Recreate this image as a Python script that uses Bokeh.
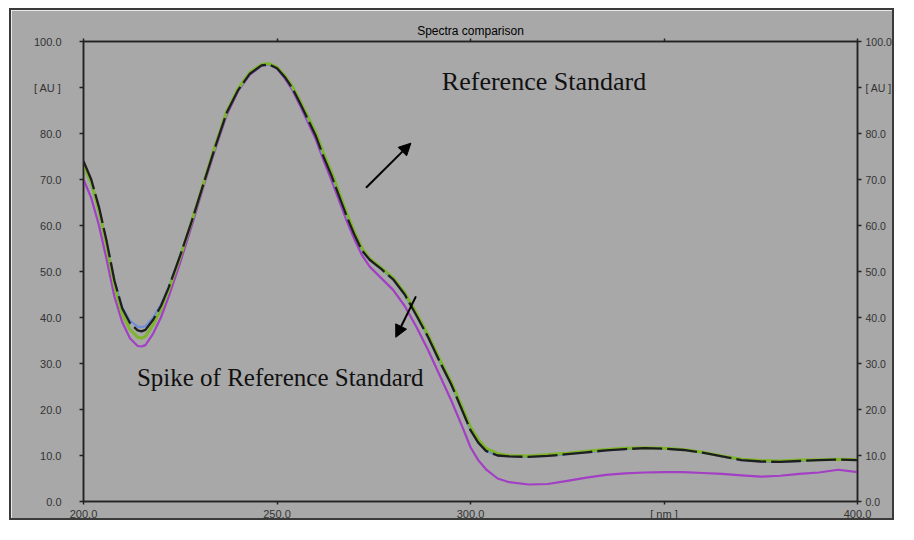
from bokeh.plotting import figure
from bokeh.models import Range1d, LinearAxis, FixedTicker, Label, Arrow, NormalHead
from bokeh.embed import file_html
from bokeh.resources import INLINE

# ---------------- data ----------------
wavelength = [200, 202, 204, 206, 208, 210, 212, 214, 215, 216, 218, 220, 222, 225, 228,
              231, 234, 237, 240, 243, 246, 248, 250, 252, 254, 256, 258, 260, 262, 264,
              266, 268, 270, 272, 274, 277, 280, 283, 286, 289, 292, 295, 298, 300, 302,
              304, 307, 310, 315, 320, 325, 330, 335, 340, 345, 350, 355, 360, 365, 370,
              375, 380, 385, 390, 395, 400]

reference_black = [74.0, 70.0, 64.0, 56.5, 48.0, 42.0, 38.8, 37.2, 37.0, 37.3, 39.5, 42.5, 46.5, 53.5, 61.0,
                   69.0, 77.0, 84.5, 89.5, 93.0, 94.8, 95.0, 94.2, 92.3, 89.8, 86.5, 83.0, 79.5, 75.0, 71.0,
                   66.5, 62.0, 58.0, 54.5, 52.5, 50.5, 48.3, 45.0, 40.5, 35.8, 30.5, 25.5, 19.5, 15.5, 12.8,
                   11.0, 10.0, 9.8, 9.7, 9.9, 10.3, 10.7, 11.1, 11.4, 11.6, 11.5, 11.2, 10.6, 9.8, 9.0,
                   8.7, 8.6, 8.8, 9.0, 9.1, 9.0]

reference_green = [73.2, 69.3, 63.2, 55.6, 47.0, 40.8, 37.4, 35.7, 35.5, 35.9, 38.4, 41.8, 46.0, 53.2, 61.0,
                   69.2, 77.3, 84.8, 89.8, 93.3, 95.0, 95.2, 94.4, 92.6, 90.2, 87.0, 83.6, 80.2, 75.8, 71.8,
                   67.3, 62.7, 58.6, 55.0, 52.8, 50.8, 48.6, 45.4, 41.0, 36.3, 31.0, 26.0, 20.2, 16.2, 13.5,
                   11.6, 10.4, 10.0, 9.9, 10.2, 10.5, 10.9, 11.3, 11.6, 11.7, 11.6, 11.3, 10.7, 9.9, 9.2,
                   8.9, 8.8, 9.0, 9.1, 9.2, 9.1]

reference_blue = [73.6, 69.6, 63.6, 56.2, 48.0, 42.3, 39.3, 38.0, 37.9, 38.1, 40.0, 42.8, 46.6, 53.5, 61.0,
                  69.0, 77.0, 84.5, 89.5, 93.0, 94.8, 95.0, 94.2, 92.3, 89.8, 86.5, 83.0, 79.5, 75.0, 71.0,
                  66.5, 62.0, 58.0, 54.5, 52.5, 50.5, 48.3, 45.0, 40.5, 35.8, 30.5, 25.5, 19.5, 15.5, 12.8,
                  11.0, 10.0, 9.8, 9.7, 9.9, 10.3, 10.7, 11.1, 11.4, 11.6, 11.5, 11.2, 10.6, 9.8, 9.0,
                  8.7, 8.6, 8.8, 9.0, 9.1, 9.0]

spike_purple = [70.0, 66.0, 60.0, 52.5, 44.5, 39.0, 35.5, 33.8, 33.7, 34.0, 36.5, 40.0, 44.5, 52.0, 60.0,
                68.5, 76.5, 84.0, 89.3, 92.8, 94.7, 95.0, 94.1, 92.0, 89.4, 86.0, 82.4, 78.8, 74.2, 70.0,
                65.5, 61.0, 57.0, 53.5, 51.0, 48.5, 46.0, 42.5, 38.0, 33.0, 27.5, 22.0, 16.0, 11.8, 9.0,
                7.0, 5.0, 4.2, 3.7, 3.8, 4.5, 5.2, 5.8, 6.1, 6.3, 6.4, 6.4, 6.2, 6.0, 5.7,
                5.4, 5.6, 6.0, 6.3, 6.9, 6.4]

x_ticks = [200, 250, 300, 350, 400]
x_tick_labels = {200: "200.0", 250: "250.0", 300: "300.0", 350: "[ nm ]", 400: "400.0"}
y_ticks = [0, 10, 20, 30, 40, 50, 60, 70, 80, 90, 100]
y_tick_labels = {0: "0.0", 10: "10.0", 20: "20.0", 30: "30.0", 40: "40.0", 50: "50.0",
                 60: "60.0", 70: "70.0", 80: "80.0", 90: "[ AU ]", 100: "100.0"}

# ---------------- figure ----------------
BG = "#a8a8a8"
p = figure(width=885, height=512, output_backend="svg", toolbar_location=None,
           x_range=Range1d(200, 400), y_range=Range1d(0, 100),
           min_border_left=72, min_border_right=39, min_border_top=31, min_border_bottom=20,
           background_fill_color=BG, border_fill_color=BG)
p.margin = (8, 0, 0, 9)
p.styles = {"border": "2px solid #3a3a3a"}

p.title.text = "Spectra comparison"
p.title.align = "center"
p.title.text_font = "Liberation Sans"
p.title.text_font_size = "12px"
p.title.text_font_style = "normal"
p.title.text_color = "#000000"
p.title.standoff = 1

p.grid.visible = False
p.outline_line_color = "#222222"
p.outline_line_width = 1.5

def style_axis(ax, labels, ticks, standoff, tick_out):
    ax.ticker = FixedTicker(ticks=ticks)
    ax.major_label_overrides = labels
    ax.axis_line_color = "#222222"
    ax.axis_line_width = 1.5
    ax.major_tick_line_color = "#222222"
    ax.major_tick_line_width = 1.5
    ax.major_tick_out = tick_out
    ax.major_tick_in = 0
    ax.minor_tick_line_color = None
    ax.major_label_standoff = standoff
    ax.major_label_text_font = "Liberation Sans"
    ax.major_label_text_font_size = "11px"
    ax.major_label_text_color = "#333333"

style_axis(p.xaxis[0], x_tick_labels, x_ticks, 3, 3)
style_axis(p.yaxis[0], y_tick_labels, y_ticks, 18, 4)

right_axis = LinearAxis()
style_axis(right_axis, y_tick_labels, y_ticks, 4, 4)
right_axis.major_label_text_font_size = "10.5px"
p.add_layout(right_axis, "right")

top_axis = LinearAxis()
style_axis(top_axis, {t: "" for t in x_ticks}, x_ticks, 0, 3)
top_axis.major_label_text_font_size = "0px"
p.add_layout(top_axis, "above")

# ---------------- spectra ----------------
p.line(wavelength, spike_purple, line_color="#a23fc4", line_width=2.2)
p.line(wavelength, reference_blue, line_color="#6f8fd8", line_width=2.2)
p.line(wavelength, reference_green, line_color="#7fb52a", line_width=3)
p.line(wavelength, reference_black, line_color="#1e1e1e", line_width=2.3, line_dash="30 5")

# ---------------- annotations ----------------
p.add_layout(Label(x=292.6, y=91.3, text="Reference Standard", text_font="Liberation Serif",
                   text_font_size="26px", text_color="#111111", text_align="left",
                   text_baseline="middle"))
p.add_layout(Label(x=213.8, y=27.0, text="Spike of Reference Standard", text_font="Liberation Serif",
                   text_font_size="25px", text_color="#111111", text_align="left",
                   text_baseline="middle"))
p.add_layout(Arrow(x_start=273.0, y_start=68.2, x_end=284.6, y_end=77.9, line_color="black", line_width=2,
                   end=NormalHead(size=12, fill_color="black", line_color="black")))
p.add_layout(Arrow(x_start=285.9, y_start=44.6, x_end=280.7, y_end=35.7, line_color="black", line_width=2,
                   end=NormalHead(size=12, fill_color="black", line_color="black")))

open("out.html", "w").write(file_html(p, INLINE))
